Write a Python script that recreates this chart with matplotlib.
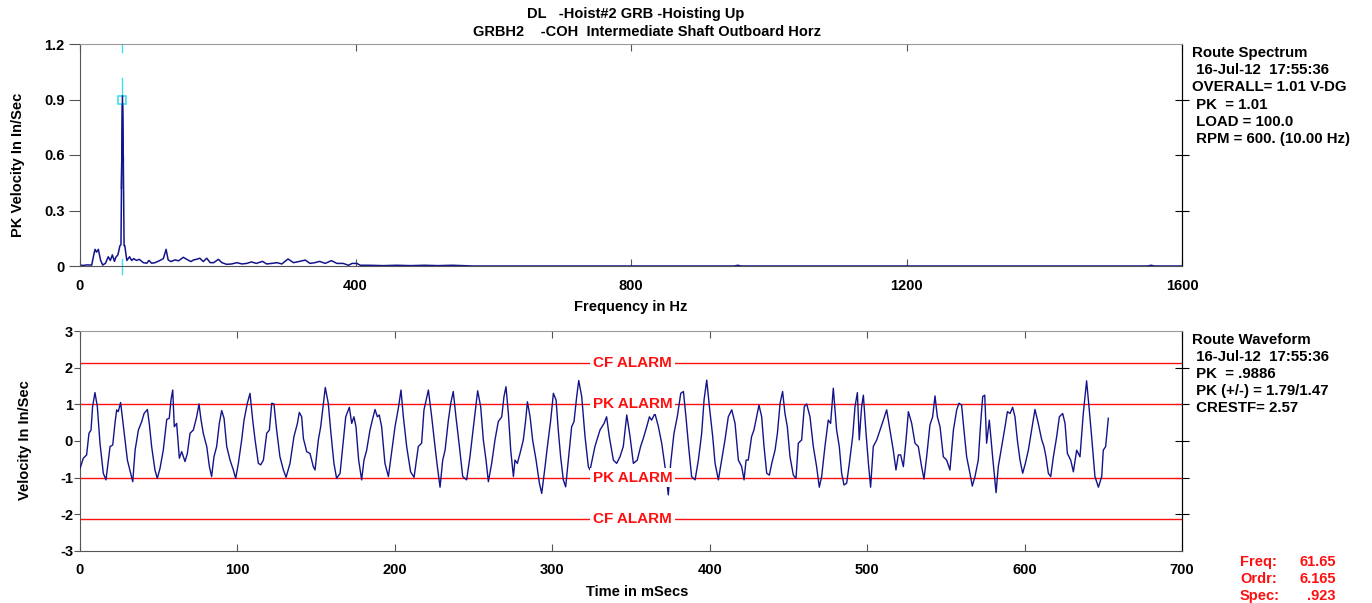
import matplotlib
matplotlib.use('Agg')
import matplotlib.pyplot as plt

plt.rcParams['font.family'] = ['Liberation Sans', 'DejaVu Sans']
plt.rcParams['font.weight'] = 'bold'
plt.rcParams['axes.unicode_minus'] = False

# ---- spectrum (Hz, in/sec) ----
spec_f = [0, 5, 10, 17, 20, 21.8, 24, 26.6, 30, 33, 37, 41, 44, 47, 50, 52, 55, 58,
          59.5, 60.2, 61.65, 62.9, 64.0, 65, 68, 72, 75, 78, 82, 86, 92, 97, 100, 104,
          109, 116, 121, 125, 128, 132, 138, 143, 150, 155, 161, 165, 169, 174, 179,
          184, 189, 194, 201, 206, 213, 220, 228, 235, 242, 249, 256, 265, 271, 278,
          286, 293, 302, 310, 319, 327, 334, 341, 348, 356, 365, 373, 382, 390, 395,
          402, 407, 420, 440, 460, 480, 500, 520, 540, 556, 570, 950, 955, 960,
          1550, 1555, 1560, 1600]
spec_a = [0.005, 0.003, 0.006, 0.005, 0.06, 0.09, 0.075, 0.09, 0.03, 0.005, 0.015, 0.05,
          0.03, 0.06, 0.025, 0.047, 0.06, 0.11, 0.115, 0.42, 0.92, 0.57, 0.11, 0.11,
          0.03, 0.05, 0.03, 0.04, 0.03, 0.036, 0.018, 0.015, 0.03, 0.015, 0.018, 0.03,
          0.04, 0.09, 0.033, 0.024, 0.033, 0.028, 0.047, 0.036, 0.024, 0.033, 0.036,
          0.042, 0.024, 0.042, 0.018, 0.018, 0.036, 0.018, 0.009, 0.011, 0.018, 0.011,
          0.014, 0.022, 0.014, 0.025, 0.011, 0.014, 0.018, 0.011, 0.038, 0.018, 0.025,
          0.032, 0.014, 0.018, 0.025, 0.014, 0.029, 0.014, 0.014, 0.004, 0.014, 0.014,
          0.004, 0.004, 0.002, 0.004, 0.002, 0.004, 0.002, 0.004, 0.002, 0.0, 0.0,
          0.004, 0.0, 0.0, 0.004, 0.0, 0.0]

# ---- waveform (ms, in/sec) ----
wave_t = [0.0, 2.1, 4.2, 5.7, 7.0, 8.0, 9.5, 11.0, 12.7, 14.8, 16.5, 19.1, 20.8, 22.2,
          23.3, 24.3, 25.8, 27.1, 28.6, 30.1, 32.2, 33.5, 35.0, 37.1, 39.2, 40.7, 42.8,
          44.0, 45.5, 47.6, 49.1, 50.8, 52.9, 55.1, 56.7, 57.8, 58.9, 59.9, 61.4, 63.1,
          64.6, 66.7, 68.2, 69.9, 72.0, 74.1, 75.6, 76.9, 78.3, 80.5, 82.2, 83.6, 85.1,
          86.8, 88.5, 90.0, 91.5, 93.2, 95.3, 97.4, 98.9, 100.6, 102.7, 104.2, 106.3,
          108.0, 109.7, 111.2, 113.3, 114.8, 116.5, 118.6, 120.3, 121.8, 123.2, 124.9,
          127.0, 129.2, 130.9, 133.4, 135.9, 138.1, 139.3, 140.8, 141.9, 144.0, 146.1,
          148.2, 149.3, 151.4, 152.9, 154.6, 155.8, 157.7, 159.4, 161.3, 163.0, 165.2,
          166.9, 168.8, 171.1, 172.6, 174.0, 175.3, 177.0, 178.9, 180.4, 182.1, 184.2,
          185.7, 187.4, 188.9, 190.1, 191.6, 193.7, 195.9, 198.0, 200.1, 202.2, 203.9,
          205.4, 207.5, 210.0, 212.2, 214.9, 217.0, 218.5, 221.3, 223.4, 225.5, 227.0,
          228.7, 230.4, 231.9, 234.0, 235.5, 237.1, 238.8, 241.0, 243.1, 245.6, 247.7,
          249.4, 250.9, 252.6, 254.5, 256.2, 257.9, 259.4, 261.5, 263.6, 265.7, 267.9,
          269.3, 270.6, 272.1, 273.6, 275.3, 276.3, 277.8, 279.5, 281.6, 283.1, 284.2,
          285.9, 287.5, 289.7, 291.8, 293.3, 295.4, 296.9, 299.0, 300.7, 302.4, 303.8,
          305.3, 307.0, 308.5, 310.2, 312.3, 313.8, 315.5, 316.8, 318.7, 320.8, 322.9,
          324.0, 327.1, 330.3, 332.9, 334.5, 336.2, 338.8, 340.9, 343.0, 345.1, 347.3,
          349.4, 351.5, 354.0, 356.1, 357.8, 360.0, 361.7, 363.1, 365.2, 367.4, 369.5,
          371.6, 373.7, 375.2, 377.3, 379.4, 381.6, 383.3, 384.9, 386.6, 388.5, 390.7,
          392.8, 394.9, 396.4, 398.1, 399.8, 401.9, 403.4, 405.5, 407.6, 409.7, 411.8,
          414.0, 416.1, 418.2, 420.3, 421.8, 423.1, 424.5, 426.6, 428.1, 429.8, 431.3,
          433.0, 434.5, 436.2, 437.9, 439.4, 441.5, 443.0, 444.7, 446.3, 447.8, 449.3,
          451.0, 453.1, 454.8, 456.3, 458.4, 460.1, 461.6, 463.7, 465.8, 467.9, 469.6,
          471.1, 473.2, 475.3, 476.8, 478.5, 480.6, 482.3, 483.8, 485.3, 487.0, 488.7,
          490.8, 492.3, 493.8, 495.0, 496.5, 497.6, 499.3, 500.8, 502.2, 503.9, 506.1,
          508.2, 510.3, 512.4, 514.5, 516.6, 518.3, 519.8, 521.3, 523.0, 524.7, 526.2,
          528.3, 530.4, 532.5, 534.6, 536.1, 537.8, 539.9, 541.6, 543.1, 544.6, 546.3,
          548.4, 550.5, 552.6, 554.8, 556.9, 558.3, 560.0, 561.5, 563.2, 565.3, 566.8,
          568.5, 570.6, 572.1, 573.4, 574.7, 575.9, 577.6, 579.7, 581.9, 583.3, 585.5,
          587.6, 589.1, 590.8, 592.4, 593.9, 595.4, 597.1, 598.8, 600.5, 602.4, 604.5,
          606.6, 608.7, 610.9, 612.3, 613.6, 615.1, 616.6, 618.3, 620.4, 622.1, 624.2,
          625.7, 627.2, 629.3, 631.0, 633.1, 635.2, 637.3, 639.4, 641.1, 642.6, 644.7,
          646.9, 649.0, 650.0, 651.5, 653.2]
wave_v = [-0.75, -0.47, -0.38, 0.21, 0.30, 0.94, 1.32, 0.94, -0.06, -0.88, -1.06, -0.15,
          -0.11, 0.48, 0.85, 0.80, 1.05, 0.57, 0.03, -0.52, -0.88, -1.11, -0.25, 0.30,
          0.53, 0.75, 0.86, 0.48, -0.15, -0.79, -1.02, -0.75, -0.25, 0.59, 0.62, 1.12,
          1.39, 0.39, 0.48, -0.47, -0.29, -0.56, -0.34, 0.21, 0.30, 0.66, 1.01, 0.57,
          0.21, -0.15, -0.70, -0.97, -0.43, -0.15, 0.48, 0.83, 0.62, -0.15, -0.52, -0.79,
          -1.02, -0.61, 0.03, 0.57, 1.03, 1.30, 0.57, 0.03, -0.61, -0.65, -0.52, 0.21,
          0.30, 1.03, 1.01, 0.30, -0.43, -0.79, -0.99, -0.61, 0.12, 0.48, 0.78, 0.66,
          0.07, -0.29, -0.34, -0.70, -0.79, 0.03, 0.39, 1.03, 1.46, 1.03, 0.21, -0.61,
          -1.02, -0.88, -0.15, 0.66, 0.92, 0.48, 0.66, 0.39, -0.52, -1.06, -0.52, -0.25,
          0.30, 0.57, 0.86, 0.66, 0.71, 0.39, -0.61, -0.97, -0.29, 0.39, 0.89, 1.39,
          0.66, -0.15, -0.84, -0.99, -0.15, -0.06, 0.85, 1.39, 0.66, -0.15, -0.70, -1.26,
          -0.52, -0.25, 0.57, 1.03, 1.35, 0.66, -0.15, -0.97, -1.06, -0.43, 0.21, 0.75,
          1.37, 0.94, 0.03, -0.52, -1.11, -0.61, 0.03, 0.53, 0.66, 1.21, 1.48, 0.75,
          -0.25, -0.97, -0.52, -0.61, -0.34, 0.03, 0.57, 1.07, 0.66, 0.03, -0.52, -1.15,
          -1.43, -0.70, -0.15, 0.57, 1.30, 1.12, 0.30, -0.43, -1.06, -1.25, -0.52, 0.39,
          0.53, 1.21, 1.65, 1.21, 0.12, -0.70, -0.79, -0.15, 0.30, 0.48, 0.66, 0.12,
          -0.52, -0.61, -0.43, -0.15, 0.71, 0.12, -0.61, -0.52, -0.15, 0.07, 0.39, 0.66,
          0.57, 0.75, 0.39, -0.06, -0.70, -1.47, -0.61, 0.21, 0.66, 1.30, 1.35, 0.66,
          -0.15, -0.97, -1.06, -0.52, 0.21, 1.12, 1.66, 0.94, 0.12, -0.61, -1.06, -0.52,
          0.03, 0.66, 0.85, 0.48, -0.52, -0.70, -1.06, -0.52, -0.52, 0.12, 0.30, 0.66,
          0.98, 0.66, -0.15, -0.88, -0.93, -0.61, -0.25, 0.21, 1.03, 1.35, 0.75, 0.39,
          -0.43, -0.93, -1.02, -0.06, 0.03, 0.94, 1.01, 0.66, -0.15, -0.70, -1.26, -0.97,
          -0.15, 0.57, 0.48, 1.44, 0.30, -0.15, -0.88, -1.20, -1.15, -0.61, 0.12, 0.94,
          1.32, 0.03, 0.94, 1.25, 0.21, -0.61, -1.26, -0.15, 0.03, 0.30, 0.57, 0.85,
          0.30, -0.25, -0.79, -0.38, -0.38, -0.70, 0.03, 0.80, 0.48, -0.06, -0.15, -0.70,
          -1.04, -0.43, 0.44, 0.66, 1.23, 0.66, 0.39, -0.43, -0.52, -0.79, 0.30, 0.85,
          1.03, 0.98, 0.30, -0.43, -0.88, -1.23, -0.97, -0.52, 0.48, 1.21, 1.25, -0.06,
          0.57, -0.43, -1.41, -0.70, -0.15, 0.39, 0.80, 0.75, 0.92, 0.66, 0.03, -0.52,
          -0.88, -0.61, -0.25, 0.30, 0.86, 0.48, 0.03, -0.15, -0.43, -0.88, -0.97, -0.43,
          0.12, 0.66, 0.75, 0.48, -0.34, -0.52, -0.84, -0.25, -0.43, 0.75, 1.64, 0.85,
          0.12, -0.97, -1.26, -0.97, -0.25, -0.15, 0.62]

peak_freq = 61.65
pk_alarm = 1.0
cf_alarm = 2.12

spec_info = ['Route Spectrum', ' 16-Jul-12  17:55:36', 'OVERALL= 1.01 V-DG',
             ' PK  = 1.01', ' LOAD = 100.0', ' RPM = 600. (10.00 Hz)']
wave_info = ['Route Waveform', ' 16-Jul-12  17:55:36', ' PK  = .9886',
             ' PK (+/-) = 1.79/1.47', ' CRESTF= 2.57']
cursor_names = ['Freq:', 'Ordr:', 'Spec:']
cursor_vals = ['61.65', '6.165', '.923']

navy = '#14148a'
W, H = 1372, 603
fig = plt.figure(figsize=(W / 100, H / 100), dpi=100)


def fx(px):
    return px / W


def fy(py):
    return 1 - py / H


def style_axes(ax, yticks, ylen, ypad):
    for s in ['left', 'bottom']:
        ax.spines[s].set_color('#555555')
    ax.spines['top'].set_color('#999999')
    ax.spines['right'].set_color('black')
    ax.tick_params(axis='x', direction='in', top=True, length=5, pad=9,
                   labelsize=10.5, colors='#555555', labelcolor='black')
    ax.tick_params(axis='y', direction='out', length=ylen, pad=ypad,
                   labelsize=10.5, colors='#555555', labelcolor='black')
    sec = ax.secondary_yaxis('right')
    sec.set_yticks(yticks)
    sec.tick_params(direction='inout', length=10, labelright=False, color='black')
    sec.spines['right'].set_color('black')
    for lbl in ax.get_xticklabels() + ax.get_yticklabels():
        lbl.set_fontweight('bold')


# ---------------- spectrum ----------------
ax1 = fig.add_axes([fx(80), fy(266), fx(1182 - 80), fy(44) - fy(266)])
ax1.plot(spec_f, spec_a, color=navy, lw=1.1)
ax1.set_xlim(0, 1600)
ax1.set_ylim(0, 1.2)
ax1.set_xticks([0, 400, 800, 1200, 1600])
ax1.set_yticks([0, 0.3, 0.6, 0.9, 1.2])
ax1.set_yticklabels(['0', '0.3', '0.6', '0.9', '1.2'])
style_axes(ax1, [0.3, 0.6, 0.9], 8, 3)
# cursor
cy = '#40e0f0'
for y0, y1 in [(1.158, 1.2), (0.88, 1.015), (-0.045, 0.04)]:
    ax1.plot([peak_freq, peak_freq], [y0, y1], color=cy, lw=1, clip_on=False)
ax1.plot([peak_freq], [0.9], marker='s', ms=6, mfc='white', mec=cy, mew=1.2,
         clip_on=False)
ax1.plot(spec_f[19:22], spec_a[19:22], color=navy, lw=1.1)

# ---------------- waveform ----------------
ax2 = fig.add_axes([fx(80), fy(551), fx(1182 - 80), fy(331) - fy(551)])
for lv, name in [(cf_alarm, 'CF ALARM'), (pk_alarm, 'PK ALARM'),
                 (-pk_alarm, 'PK ALARM'), (-cf_alarm, 'CF ALARM')]:
    ax2.axhline(lv, color='#ff1010', lw=1, zorder=1)
    ax2.text(351, lv, name, color='#ff1010', fontsize=11, fontweight='bold',
             ha='center', va='center', zorder=4,
             bbox=dict(facecolor='white', edgecolor='none', pad=2))
ax2.plot(wave_t, wave_v, color=navy, lw=1, zorder=3)
ax2.set_xlim(0, 700)
ax2.set_ylim(-3, 3)
ax2.set_xticks(range(0, 701, 100))
ax2.set_yticks([-3, -2, -1, 0, 1, 2, 3])
style_axes(ax2, [-2, -1, 0, 1, 2], 4, 1)

# ---------------- texts ----------------
fig.text(fx(636), fy(14), 'DL   -Hoist#2 GRB -Hoisting Up', ha='center', va='center',
         fontsize=10.5, fontweight='bold')
fig.text(fx(647), fy(32), 'GRBH2    -COH  Intermediate Shaft Outboard Horz',
         ha='center', va='center', fontsize=10.5, fontweight='bold')
fig.text(fx(631), fy(307), 'Frequency in Hz', ha='center', va='center',
         fontsize=10.5, fontweight='bold')
fig.text(fx(637), fy(592), 'Time in mSecs', ha='center', va='center',
         fontsize=10.5, fontweight='bold')
fig.text(fx(18), fy(165), 'PK Velocity In In/Sec', rotation=90, ha='center',
         va='center', fontsize=10.5, fontweight='bold')
fig.text(fx(25), fy(440), 'Velocity In In/Sec', rotation=90, ha='center',
         va='center', fontsize=10.5, fontweight='bold')

for i, s in enumerate(spec_info):
    fig.text(fx(1192), fy(53 + i * 17.2), s, ha='left', va='center', fontsize=10.8,
             fontweight='bold')
for i, s in enumerate(wave_info):
    fig.text(fx(1192), fy(340 + i * 17), s, ha='left', va='center', fontsize=10.8,
             fontweight='bold')
for i, (n, v) in enumerate(zip(cursor_names, cursor_vals)):
    fig.text(fx(1240), fy(562 + i * 17), n, ha='left', va='center', fontsize=10.5,
             fontweight='bold', color='#ff1010')
    fig.text(fx(1336), fy(562 + i * 17), v, ha='right', va='center', fontsize=10.5,
             fontweight='bold', color='#ff1010')

fig.savefig('out.png', dpi=100)
